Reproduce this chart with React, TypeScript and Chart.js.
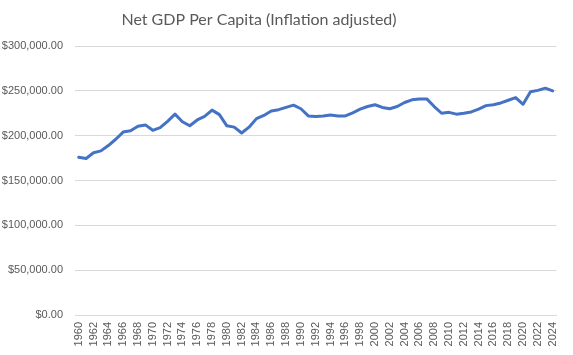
import React, { useEffect, useRef } from "react";
import { Chart, registerables } from "chart.js";

Chart.register(...registerables);

const years: string[] = [];
for (let y = 1960; y <= 2024; y++) years.push(String(y));

const netGdpPerCapita = [
  176000, 174500, 181000, 183000, 189000, 196000, 204000, 205500, 210500, 212000,
  206000, 209000, 216000, 224000, 215500, 211000, 217500, 221500, 228500, 223500,
  211000, 209500, 203000, 209500, 219000, 222500, 227500, 229000, 231500, 234000,
  230000, 222000, 221500, 222000, 223000, 222000, 222000, 225500, 229500, 232500,
  234500, 231500, 230000, 232500, 237000, 240000, 241000, 241000, 232500, 225000,
  226000, 224000, 225000, 226500, 229500, 233500, 234500, 236500, 239500, 242500,
  235000, 249000, 250500, 253000, 250000,
];

const chartTitle = "Net GDP Per Capita (Inflation adjusted)";

const titlePlugin = {
  id: "excelTitle",
  afterDraw(chart: any) {
    const c = chart.ctx;
    c.save();
    c.fillStyle = "#595959";
    c.font = "16px Lato, 'Liberation Sans', sans-serif";
    c.textAlign = "center";
    c.textBaseline = "middle";
    c.fillText(chartTitle, 259, 20);
    c.restore();
  },
};

export default function App() {
  const canvasRef = useRef<HTMLCanvasElement | null>(null);

  useEffect(() => {
    document.body.style.margin = "0";
    const ctx = canvasRef.current;
    if (!ctx) return;
    const chart = new Chart(ctx, {
      type: "line",
      data: {
        labels: years,
        datasets: [
          {
            label: "Net GDP Per Capita",
            data: netGdpPerCapita,
            borderColor: "#4472C4",
            backgroundColor: "#4472C4",
            borderWidth: 3,
            pointRadius: 0,
            tension: 0,
            borderCapStyle: "round",
            borderJoinStyle: "round",
          },
        ],
      },
      plugins: [titlePlugin],
      options: {
        responsive: false,
        animation: false,
        devicePixelRatio: 1,
        layout: { padding: { left: 0, right: 13, top: 46, bottom: 0 } },
        plugins: {
          legend: { display: false },
          tooltip: { enabled: false },
          title: { display: false },
        },
        scales: {
          x: {
            offset: true,
            grid: { display: false, drawTicks: false },
            border: { display: true, color: "#d9d9d9", width: 1 },
            ticks: {
              autoSkip: false,
              minRotation: 90,
              maxRotation: 90,
              padding: 7,
              color: "#595959",
              font: { family: "'Liberation Sans', sans-serif", size: 11 },
              callback: (_v: any, i: number) => (i % 2 === 0 ? years[i] : ""),
            },
            afterFit: (scale: any) => {
              scale.height = 40;
            },
          },
          y: {
            min: 0,
            max: 300000,
            grid: { color: "#d9d9d9", drawTicks: false },
            border: { display: false },
            ticks: {
              stepSize: 50000,
              padding: 12,
              color: "#595959",
              font: { family: "'Liberation Sans', sans-serif", size: 11 },
              callback: (v: any) =>
                "$" +
                Number(v).toLocaleString("en-US", {
                  minimumFractionDigits: 2,
                  maximumFractionDigits: 2,
                }),
            },
            afterFit: (scale: any) => {
              scale.width = 75;
            },
          },
        },
      },
    });
    return () => chart.destroy();
  }, []);

  return (
    <div style={{ position: "absolute", left: 0, top: 0, width: 573, height: 355, background: "#fff" }}>
      <canvas ref={canvasRef} width={573} height={355} />
    </div>
  );
}
